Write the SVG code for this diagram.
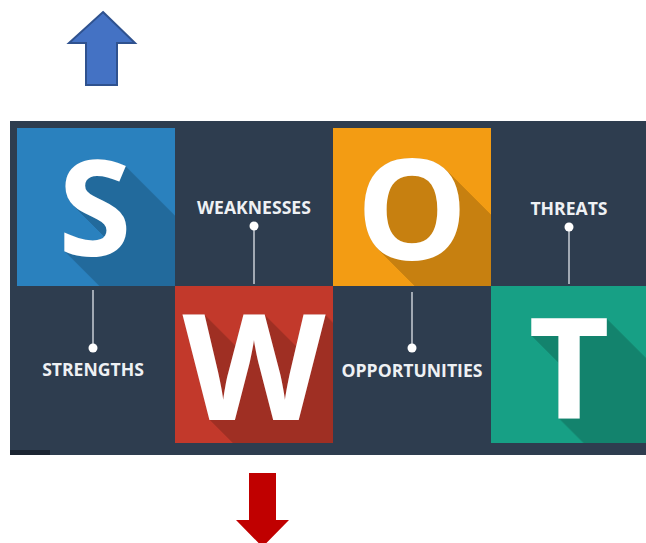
<svg xmlns="http://www.w3.org/2000/svg" width="646" height="543" viewBox="0 0 646 543">
  <style>
    .letter { font-family: "Open Sans", "Liberation Sans", sans-serif; font-weight: 700; fill: #ffffff; text-anchor: middle; }
    .shadow { font-family: "Open Sans", "Liberation Sans", sans-serif; font-weight: 700; fill: #000000; text-anchor: middle; }
    .label { font-family: "Open Sans", "Liberation Sans", sans-serif; font-weight: 700; font-size: 17.6px; fill: #eef1f4; text-anchor: middle; }
    .stem { stroke: #c9ced4; stroke-width: 1.5; }
    .dot { fill: #ffffff; }
  </style>
  <defs>
    <!-- 45-degree long shadow built by doubling offsets (1+2+4+...+64 px) -->
    <filter id="longShadow" filterUnits="userSpaceOnUse" x="0" y="0" width="646" height="543">
      <feOffset in="SourceAlpha" dx="1" dy="1" result="o1"/>
      <feMerge result="m1"><feMergeNode in="SourceAlpha"/><feMergeNode in="o1"/></feMerge>
      <feOffset in="m1" dx="2" dy="2" result="o2"/>
      <feMerge result="m2"><feMergeNode in="m1"/><feMergeNode in="o2"/></feMerge>
      <feOffset in="m2" dx="4" dy="4" result="o3"/>
      <feMerge result="m3"><feMergeNode in="m2"/><feMergeNode in="o3"/></feMerge>
      <feOffset in="m3" dx="8" dy="8" result="o4"/>
      <feMerge result="m4"><feMergeNode in="m3"/><feMergeNode in="o4"/></feMerge>
      <feOffset in="m4" dx="16" dy="16" result="o5"/>
      <feMerge result="m5"><feMergeNode in="m4"/><feMergeNode in="o5"/></feMerge>
      <feOffset in="m5" dx="32" dy="32" result="o6"/>
      <feMerge result="m6"><feMergeNode in="m5"/><feMergeNode in="o6"/></feMerge>
      <feOffset in="m6" dx="64" dy="64" result="o7"/>
      <feMerge result="m7"><feMergeNode in="m6"/><feMergeNode in="o7"/></feMerge>
      <feFlood flood-color="#000000" flood-opacity="0.18"/>
      <feComposite in2="m7" operator="in"/>
    </filter>
    <clipPath id="clipS"><rect x="17" y="128" width="158" height="158"/></clipPath>
    <clipPath id="clipW"><rect x="175" y="286" width="158" height="157"/></clipPath>
    <clipPath id="clipO"><rect x="333" y="128" width="158" height="158"/></clipPath>
    <clipPath id="clipT"><rect x="491" y="286" width="155" height="157"/></clipPath>
  </defs>

  <!-- dark board -->
  <rect x="10" y="121" width="636" height="334" fill="#2e3d4f"/>
  <rect x="10" y="450" width="40" height="5" fill="#1b2431"/>

  <!-- S tile -->
  <g id="tile-s">
    <rect x="17" y="128" width="158" height="158" fill="#2a81be"/>
    <g clip-path="url(#clipS)">
      <text class="shadow" x="95" y="256" font-size="133" filter="url(#longShadow)">S</text>
    </g>
    <text class="letter" x="95" y="256" font-size="133">S</text>
  </g>

  <!-- W tile -->
  <g id="tile-w">
    <rect x="175" y="286" width="158" height="157" fill="#c2392b"/>
    <g clip-path="url(#clipW)">
      <text class="shadow" x="254" y="420" font-size="148" filter="url(#longShadow)">W</text>
    </g>
    <text class="letter" x="254" y="420" font-size="148">W</text>
  </g>

  <!-- O tile -->
  <g id="tile-o">
    <rect x="333" y="128" width="158" height="158" fill="#f39c13"/>
    <g clip-path="url(#clipO)">
      <text class="shadow" x="412" y="260" font-size="140" filter="url(#longShadow)">O</text>
    </g>
    <text class="letter" x="412" y="260" font-size="140">O</text>
  </g>

  <!-- T tile -->
  <g id="tile-t">
    <rect x="491" y="286" width="155" height="157" fill="#17a085"/>
    <g clip-path="url(#clipT)">
      <text class="shadow" x="569" y="418" font-size="140" filter="url(#longShadow)">T</text>
    </g>
    <text class="letter" x="569" y="418" font-size="140">T</text>
  </g>

  <!-- label callouts -->
  <g id="connectors">
    <line class="stem" x1="93" y1="290" x2="93" y2="348"/>
    <line class="stem" x1="254" y1="226" x2="254" y2="284"/>
    <line class="stem" x1="412" y1="292" x2="412" y2="348"/>
    <line class="stem" x1="569" y1="227" x2="569" y2="284"/>
  </g>

  <g id="label-strengths">
    <circle class="dot" cx="93" cy="348" r="4.5"/>
    <text class="label" x="93" y="376">STRENGTHS</text>
  </g>
  <g id="label-weaknesses">
    <circle class="dot" cx="254" cy="226" r="4.5"/>
    <text class="label" x="254" y="214">WEAKNESSES</text>
  </g>
  <g id="label-opportunities">
    <circle class="dot" cx="412" cy="348" r="4.5"/>
    <text class="label" x="412" y="377">OPPORTUNITIES</text>
  </g>
  <g id="label-threats">
    <circle class="dot" cx="569" cy="227" r="4.5"/>
    <text class="label" x="569" y="215">THREATS</text>
  </g>

  <!-- up arrow -->
  <g id="arrow-up">
    <polygon points="103,12 135,43 117,43 117,85 86,85 86,43 69,43" fill="#4472c4" stroke="#2f528f" stroke-width="2" stroke-linejoin="miter"/>
  </g>

  <!-- down arrow -->
  <g id="arrow-down">
    <polygon points="249,473 276,473 276,520 289,520 262.5,547 236,520 249,520" fill="#c00000"/>
  </g>
</svg>
